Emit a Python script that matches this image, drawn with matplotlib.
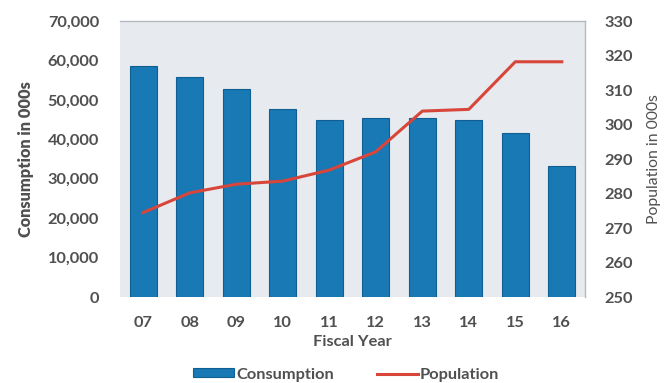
import matplotlib.pyplot as plt
from matplotlib.ticker import FuncFormatter

years = ["07", "08", "09", "10", "11", "12", "13", "14", "15", "16"]
consumption = [58600, 55800, 52800, 47800, 45000, 45300, 45300, 45000, 41650, 33300]
population = [274.5, 280.2, 282.7, 283.6, 286.8, 292.1, 303.9, 304.4, 318.2, 318.2]

plt.rcParams['font.family'] = ['Lato', 'DejaVu Sans']
textColor = "#505050"
fs = 11.8

fig = plt.figure(figsize=(6.72, 3.83), dpi=100)
ax = fig.add_axes([0.1786, 0.2245, 0.692, 0.7205])
ax.set_facecolor("#e7ebef")

x = range(len(years))
bars = ax.bar(x, consumption, width=0.58, color="#1879b5", edgecolor="#0f5f92", linewidth=0.8, label="Consumption", zorder=2)
ax.set_xlim(-0.5, len(years) - 0.5)
ax.set_ylim(0, 70000)
ax.set_yticks(range(0, 70001, 10000))
ax.yaxis.set_major_formatter(FuncFormatter(lambda v, p: f"{int(v):,}"))
ax.set_xticks(list(x))
ax.set_xticklabels(years)
ax.tick_params(length=0, labelsize=fs, colors=textColor, pad=14)
ax.tick_params(axis='y', pad=15)
for lbl in ax.get_xticklabels() + ax.get_yticklabels():
	lbl.set_fontweight("bold")

ax.set_ylabel("Consumption in 000s", fontsize=fs, fontweight="heavy", color=textColor, labelpad=10)
ax.set_xlabel("Fiscal Year", fontsize=fs, fontweight="bold", color=textColor, labelpad=3)

for side in ["left", "bottom"]:
	ax.spines[side].set_visible(False)
for side in ["top", "right"]:
	ax.spines[side].set_color("#b5b9bd")
	ax.spines[side].set_linewidth(1.0)

#Population on the secondary axis
ax2 = ax.twinx()
line, = ax2.plot(list(x), population, color="#d8453a", linewidth=2.2, label="Population", zorder=3)
ax2.set_ylim(250, 330)
ax2.set_yticks(range(250, 331, 10))
ax2.tick_params(length=0, labelsize=fs, colors=textColor, pad=14)
for lbl in ax2.get_yticklabels():
	lbl.set_fontweight("bold")
ax2.set_ylabel("Population in 000s", fontsize=fs - 0.5, color=textColor, labelpad=10)
for side in ax2.spines:
	ax2.spines[side].set_visible(False)

leg = fig.legend([bars, line], ["Consumption", "Population"], loc="lower center", bbox_to_anchor=(0.515, -0.035),
	ncol=2, frameon=False, fontsize=fs, handlelength=2.5, handleheight=0.45, handletextpad=0.15, columnspacing=2.6)
for t in leg.get_texts():
	t.set_color(textColor)
	t.set_fontweight("bold")

plt.savefig("out.png", dpi=100)
